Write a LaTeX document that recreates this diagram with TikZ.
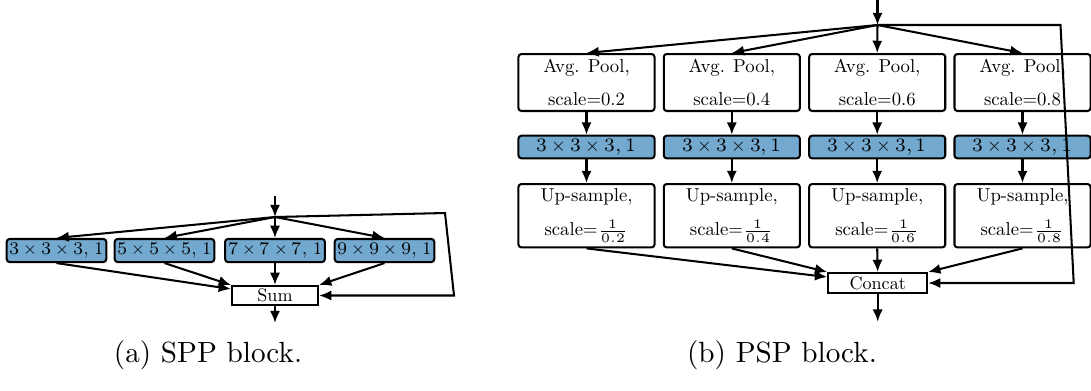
\documentclass[tikz,border=0pt]{standalone}
\usepackage{unicode-math}
\setmainfont{lmroman10-regular.otf}
\setmathfont{latinmodern-math.otf}
\usetikzlibrary{arrows.meta}
\definecolor{convblue}{RGB}{116,169,207}
\begin{document}
\begin{tikzpicture}[x=0.3425pt,y=-0.3425pt,
  line width=0.7pt,
  >={Latex[length=4.2pt,width=3.5pt]},
  conv/.style={draw, fill=convblue, rounded corners=1pt, inner xsep=1pt, inner ysep=0pt,
    minimum height=7.9pt, font=\fontsize{6.1}{7}\selectfont},
  pspconv/.style={conv, minimum width=46.6pt, minimum height=7.74pt, font=\fontsize{6.5}{8}\selectfont},
  opbox/.style={draw, fill=white, rounded corners=1pt, minimum width=46.6pt, align=center,
    inner sep=0pt, font=\fontsize{6.4}{11.6}\selectfont},
  merge/.style={draw, fill=white, inner sep=0pt, font=\fontsize{6.2}{7}\selectfont},
  caption/.style={font=\fontsize{10}{12}\selectfont, anchor=base}
]
\useasboundingbox (0,0) rectangle (1091,390);

% ---------------- SPP block ----------------
\coordinate (inA) at (275,196);
\coordinate (splitA) at (275,217);
\node[conv] (s1) at (56.5,250.5) {$3\times 3\times 3$, 1};
\node[conv] (s2) at (164.5,250.5) {$5\times 5\times 5$, 1};
\node[conv] (s3) at (275,250.5) {$7\times 7\times 7$, 1};
\node[conv] (s4) at (384.5,250.5) {$9\times 9\times 9$, 1};
\node[merge, minimum width=29.5pt, minimum height=6.5pt] (sum) at (275,295.5) {Sum};
\coordinate (fbA1) at (445,213);
\coordinate (fbA2) at (454,295.5);
\coordinate (outA) at (275,323);

\draw[->] (inA) -- (splitA);
\foreach \n in {s1,s2,s3,s4} \draw[->] (splitA) -- (\n.north);
\draw[->] (s1.south) -- (sum);
\draw[->] (s2.south) -- (sum.north west);
\draw[->] (s3.south) -- (sum.north);
\draw[->] (s4.south) -- (sum.north east);
\draw[->] (splitA) -- (fbA1) -- (fbA2) -- (sum.east);
\draw[->] (sum.south) -- (outA);

% ---------------- PSP block ----------------
\coordinate (inB) at (877.5,0);
\coordinate (splitB) at (877.5,25);
\foreach \i/\x/\s in {1/586.5/0.2, 2/731.8/0.4, 3/877.2/0.6, 4/1022.5/0.8} {
  \node[opbox, minimum height=19.5pt] (p\i) at (\x,82.5) {Avg. Pool,\\scale=\s};
  \node[pspconv] (c\i) at (\x,147) {$3\times 3\times 3,1$};
  \node[opbox, minimum height=21.7pt] (u\i) at (\x,215.7) {Up-sample,\\scale=$\frac{1}{\s}$};
}
\node[merge, minimum width=33.9pt, minimum height=6.85pt] (concat) at (877.7,283) {Concat};
\coordinate (fbB1) at (1060.5,25);
\coordinate (fbB2) at (1073.7,283);
\coordinate (outB) at (877.7,321.7);

\draw[->] (inB) -- (splitB);
\foreach \i in {1,2,3,4} {
  \draw[->] (splitB) -- (p\i.north);
  \draw[->] (p\i.south) -- (c\i.north);
  \draw[->] (c\i.south) -- (u\i.north);
}
\draw[->] (u1.south) -- (concat);
\draw[->] (u2.south) -- (concat.north west);
\draw[->] (u3.south) -- (concat.north);
\draw[->] (u4.south) -- (concat.north east);
\draw[->] (splitB) -- (fbB1) -- (fbB2) -- (concat.east);
\draw[->] (concat.south) -- (outB);

% ---------------- captions ----------------
\node[caption] (capA) at (208,362) {(a) SPP block.};
\node[caption] (capB) at (782,362) {(b) PSP block.};
\end{tikzpicture}
\end{document}
